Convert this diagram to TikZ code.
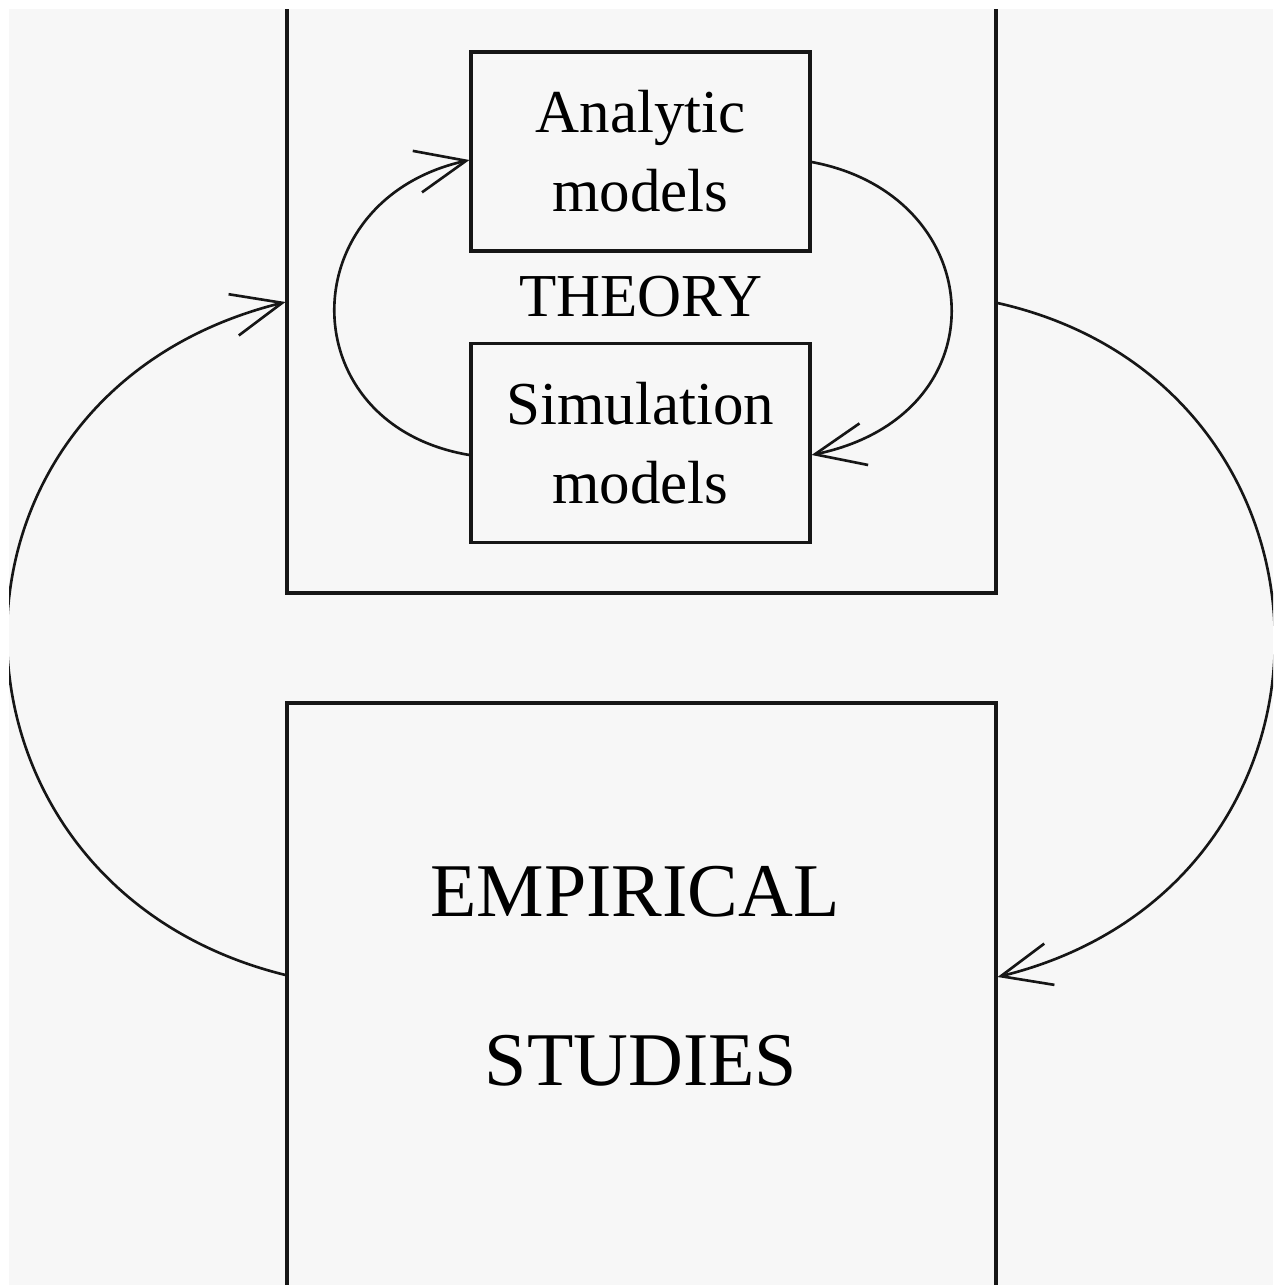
\documentclass[tikz,border=0pt]{standalone}
\usepackage{fontspec}
\setmainfont{Liberation Serif}
\usetikzlibrary{arrows.meta}
\begin{document}
\begin{tikzpicture}[x=0.02cm, y=-0.02cm,
  bigbox/.style={draw=ink, line width=1.8pt, minimum width=14.18cm, inner sep=0pt},
  modelbox/.style={draw=ink, line width=1.8pt, minimum width=6.78cm, minimum height=3.98cm, align=center, font=\fontsize{34.7}{45}\selectfont},
  loop/.style={draw=ink, line width=1.5pt, -{Straight Barb[length=1cm, width=0.85cm]}}]
\definecolor{paper}{HTML}{F7F7F7}
\definecolor{ink}{HTML}{161616}
\useasboundingbox (0,0) rectangle (1276,1285);
%Background:
\fill[paper] (9,9) rectangle (1273,1285);
\clip (9,9) rectangle (1273,1285);
%Outer boxes (cut by the page):
\node[bigbox, minimum height=13.86cm] (theory) at (641.5,246.5) {};
\node[bigbox, minimum height=13.94cm] (empirical) at (641.5,1051.5) {};
%Models:
\node[modelbox] (analytic) at (640.5,151.5) {Analytic\\models};
\node[modelbox] (simulation) at (640.5,443) {Simulation\\models};
%Labels:
\node[font=\fontsize{34.7}{45}\selectfont] (theorylabel) at (641,297) {THEORY};
\node[font=\fontsize{43.2}{50}\selectfont] (emplabel) at (635,892) {EMPIRICAL};
\node[font=\fontsize{43.2}{50}\selectfont] (studlabel) at (641,1061) {STUDIES};
%Inner loop:
\draw[loop] (simulation.west |- 0,455) .. controls (290,425) and (290,200) .. (analytic.west |- 0,160);
\draw[loop] (analytic.east |- 0,162) .. controls (990,195) and (1005,415) .. (simulation.east |- 0,455);
%Outer loop:
\draw[loop] (empirical.west |- 0,975) .. controls (-80,885) and (-90,395) .. (theory.west |- 0,302);
\draw[loop] (theory.east |- 0,303) .. controls (1362,385) and (1371,885) .. (empirical.east |- 0,977);
\end{tikzpicture}
\end{document}
